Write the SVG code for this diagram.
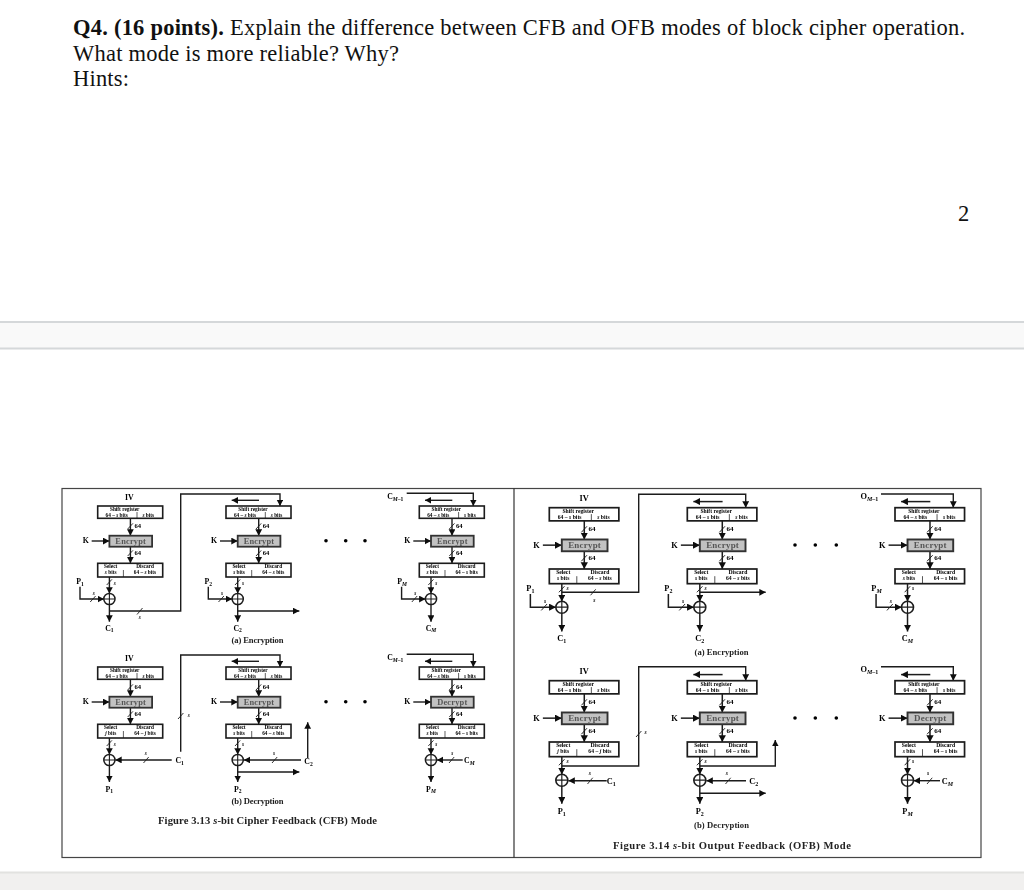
<svg xmlns="http://www.w3.org/2000/svg" width="1024" height="890" viewBox="0 0 1024 890">
<style>
.q{font-family:"Liberation Serif","Times New Roman",serif;font-size:22.5px;fill:#111}
text{font-family:"Liberation Serif","Times New Roman",serif}
.f text{font-weight:bold;fill:#000;text-anchor:middle}
.t4{font-size:5.3px}
.t6{font-size:6.6px}
.t8{font-size:8.4px;letter-spacing:.2px;fill:#555!important}
.t7{font-size:7.8px}
.cap{font-size:8.6px;fill:#222!important}
.fig{font-size:10.6px;fill:#222!important}
.i{font-style:italic}
.sub{font-size:5.6px}
.ln{fill:none;stroke:#1c1c1c;stroke-width:1.4}
.ar{marker-end:url(#tip)}
.sl{fill:none;stroke:#1c1c1c;stroke-width:.9}
.bx{fill:#fff;stroke:#1c1c1c;stroke-width:1.6}
.dv{fill:none;stroke:#1c1c1c;stroke-width:.7}
.en{fill:#c2c2c2;stroke:#333;stroke-width:1.8}
.dot{fill:#000}
</style>
<defs>
<filter id="soft" filterUnits="userSpaceOnUse" x="50" y="480" width="945" height="385"><feGaussianBlur stdDeviation="0.38"/></filter>
<marker id="tip" markerUnits="userSpaceOnUse" markerWidth="8" markerHeight="8" refX="6.4" refY="3.4" orient="auto"><path d="M0 0L6.4 3.4L0 6.8Z" fill="#111"/></marker>
<g id="xor"><circle r="5.6" fill="#fff" stroke="#1c1c1c" stroke-width="1.5"/><path d="M-5.6 0H5.6M0-5.6V5.6" stroke="#1c1c1c" stroke-width="1.1" fill="none"/></g>
<!-- cipher column: stems from register through block to combiner -->
<g id="stem">
<path class="ln ar" d="M32.7 12.3V29.7"/><path class="sl" d="M30 23l5.2-5.6"/>
<path class="ln ar" d="M32.7 40.7V57.3"/><path class="sl" d="M30 50l5.2-5.6"/>
<path class="ln ar" d="M-6 35H11.7"/>
<path class="ln ar" d="M11.7 71V87.6"/><path class="sl" d="M9 79l5.2-5.6"/>
</g>
<g id="plain-in">
<path class="ln ar" d="M-17.7 80.7V93H6.2"/><path class="sl" d="M-7.5 96l5.4-6"/>
<path class="ln ar" d="M11.7 98.6V115.7"/>
</g>
<path id="out" class="ln ar" d="M11.7 98.6V115"/>
<path id="left" class="ln ar" d="M33-5.7H5.7"/>
</defs>

<rect width="1024" height="890" fill="#fff"/>

<g id="page-band">
<rect y="322" width="1024" height="27" fill="#f9f9f9"/>
<rect y="321" width="1024" height="2" fill="#d5d8da"/>
<rect y="347.5" width="1024" height="2" fill="#d5d8da"/>
<rect y="872" width="1024" height="18" fill="#f1f0ef"/>
<rect y="871.5" width="1024" height="2" fill="#e2e2e0"/>
</g>

<g id="question">
<text class="q" x="73" y="35" textLength="892" lengthAdjust="spacing"><tspan font-weight="bold">Q4. (16 points).</tspan> Explain the difference between CFB and OFB modes of block cipher operation.</text>
<text class="q" x="73" y="61" textLength="326" lengthAdjust="spacing">What mode is more reliable? Why?</text>
<text class="q" x="73" y="86" textLength="56" lengthAdjust="spacing">Hints:</text>
<text class="q" x="958" y="221">2</text>
</g>

<g class="f" filter="url(#soft)">
<g id="frame">
<rect x="62" y="488.5" width="919" height="369" fill="none" stroke="#444" stroke-width="1.2"/>
<path d="M514 488.5V857.5" stroke="#333" stroke-width="1.2"/>
</g>

<g id="connectors">
<!-- CFB encryption -->
<use href="#stem" x="97.7" y="506"/><use href="#plain-in" x="97.7" y="506"/>
<use href="#stem" x="226" y="506"/><use href="#plain-in" x="226" y="506"/><use href="#left" x="226" y="506"/>
<use href="#stem" x="419.3" y="506"/><use href="#plain-in" x="419.3" y="506"/><use href="#left" x="419.3" y="506"/>
<path class="ln ar" d="M109.3 611H180.7V494H280V506"/><path class="sl" d="M137 614.500l5.500-6.500"/>
<path class="ln ar" d="M238 611H299.3"/>
<path class="ln ar" d="M406.7 493.3H473.3V506"/>
<!-- CFB decryption -->
<use href="#stem" x="97.7" y="667"/><use href="#out" x="97.7" y="667"/>
<use href="#stem" x="226" y="667"/><use href="#out" x="226" y="667"/><use href="#left" x="226" y="667"/>
<use href="#stem" x="419.3" y="667"/><use href="#out" x="419.3" y="667"/><use href="#left" x="419.3" y="667"/>
<path class="ln ar" d="M171.7 760H115.300"/><path class="sl" d="M143.500 763l5.200-6"/>
<path class="ln ar" d="M180.7 751.7V655H280V667"/><path class="sl" d="M178 719l5.400-6"/>
<path class="ln ar" d="M301 760H243.800"/><path class="sl" d="M272 763l5.200-6"/>
<path class="ln ar" d="M238 772H299.3"/>
<path class="ln ar" d="M307.7 758V722.3"/>
<path class="ln ar" d="M462.7 760H436.8"/><path class="sl" d="M449 763l5.200-6"/>
<path class="ln ar" d="M406.7 654.3H473.3V667"/>
<!-- OFB encryption -->
<g transform="translate(549.3 507.7) scale(1.07)"><use href="#stem"/><use href="#plain-in"/></g>
<g transform="translate(687.3 507.7) scale(1.07)"><use href="#stem"/><use href="#plain-in"/><use href="#left"/></g>
<g transform="translate(895 507.7) scale(1.07)"><use href="#stem"/><use href="#plain-in"/><use href="#left"/></g>
<path class="ln ar" d="M562 592.3H638.7V494.3H745.7V507.7"/><path class="sl" d="M590.500 595.3l5.200-6"/>
<path class="ln ar" d="M700 592.3H765.7"/>
<path class="ln ar" d="M881 494H953.3V507.7"/>
<!-- OFB decryption -->
<g transform="translate(549.3 680.7) scale(1.07)"><use href="#stem"/><use href="#out"/></g>
<g transform="translate(687.3 680.7) scale(1.07)"><use href="#stem"/><use href="#out"/><use href="#left"/></g>
<g transform="translate(895 680.7) scale(1.07)"><use href="#stem"/><use href="#out"/><use href="#left"/></g>
<path class="ln ar" d="M606.7 780.7H568.4"/><path class="sl" d="M587.500 784l5.200-6.200"/>
<path class="ln ar" d="M562 766H638.7V666.7H745.7V680.7"/><path class="sl" d="M636 737l5.400-6"/>
<path class="ln ar" d="M746 780.7H706.4"/><path class="sl" d="M725.500 784l5.200-6.200"/>
<path class="ln ar" d="M700 766H775.3V740"/>
<path class="ln ar" d="M700 793.3H765.7"/>
<path class="ln ar" d="M940 780.7H913.7"/><path class="sl" d="M927 784l5.200-6.200"/>
<path class="ln ar" d="M881 666.7H953.3V680.7"/>
</g>

<!-- CFB encryption columns -->
<g transform="translate(97.7 506)">
<g id="cfb-e1-register"><rect class="bx" width="65" height="12.3"/><path class="dv" d="M39.3 6V12.3"/><text class="t4" x="27" y="5">Shift register</text><text class="t4" x="19" y="10.500">64 – <tspan class="i">s</tspan> bits</text><text class="t4" x="50.6" y="10.500"><tspan class="i">s</tspan> bits</text></g>
<g id="cfb-e1-block"><rect class="en" x="11.7" y="29.7" width="42.7" height="11"/><text class="t8" x="33" y="38">Encrypt</text></g>
<g id="cfb-e1-select"><rect class="bx" y="57.3" width="65" height="13.7"/><path class="dv" d="M25.7 64V71"/><text class="t4" x="13" y="62.3">Select</text><text class="t4" x="13" y="68"><tspan class="i">s</tspan> bits</text><text class="t4" x="47.3" y="62.3">Discard</text><text class="t4" x="47.3" y="68">64 – <tspan class="i">s</tspan> bits</text></g>
<g id="cfb-e1-xor"><use href="#xor" x="11.7" y="93"/></g>
<g id="cfb-e1-labels"><text class="t7" x="31.6" y="-6">IV</text><text class="t7" x="-12" y="37.3">K</text><text class="t6" x="40" y="21.7">64</text><text class="t6" x="40" y="48.7">64</text><text class="t4 i" x="17" y="78.500">s</text><text class="t4 i" x="-4" y="89">s</text><text class="t7" x="-17.7" y="78.3">P<tspan class="sub" dy="1.500">1</tspan></text><text class="t7" x="11.7" y="124.7">C<tspan class="sub" dy="1.500">1</tspan></text><text class="t4 i" x="42" y="112.500">s</text></g>
</g>
<g transform="translate(226 506)">
<g id="cfb-e2-register"><rect class="bx" width="65" height="12.3"/><path class="dv" d="M39.3 6V12.3"/><text class="t4" x="27" y="5">Shift register</text><text class="t4" x="19" y="10.500">64 – <tspan class="i">s</tspan> bits</text><text class="t4" x="50.6" y="10.500"><tspan class="i">s</tspan> bits</text></g>
<g id="cfb-e2-block"><rect class="en" x="11.7" y="29.7" width="42.7" height="11"/><text class="t8" x="33" y="38">Encrypt</text></g>
<g id="cfb-e2-select"><rect class="bx" y="57.3" width="65" height="13.7"/><path class="dv" d="M25.7 64V71"/><text class="t4" x="13" y="62.3">Select</text><text class="t4" x="13" y="68"><tspan class="i">s</tspan> bits</text><text class="t4" x="47.3" y="62.3">Discard</text><text class="t4" x="47.3" y="68">64 – <tspan class="i">s</tspan> bits</text></g>
<g id="cfb-e2-xor"><use href="#xor" x="11.7" y="93"/></g>
<g id="cfb-e2-labels"><text class="t7" x="-12" y="37.3">K</text><text class="t6" x="40" y="21.7">64</text><text class="t6" x="40" y="48.7">64</text><text class="t4 i" x="17" y="78.500">s</text><text class="t4 i" x="-4" y="89">s</text><text class="t7" x="-17.7" y="78.3">P<tspan class="sub" dy="1.500">2</tspan></text><text class="t7" x="11.7" y="124.7">C<tspan class="sub" dy="1.500">2</tspan></text></g>
</g>
<g transform="translate(419.3 506)">
<g id="cfb-eM-register"><rect class="bx" width="65" height="12.3"/><path class="dv" d="M39.3 6V12.3"/><text class="t4" x="27" y="5">Shift register</text><text class="t4" x="19" y="10.500">64 – <tspan class="i">s</tspan> bits</text><text class="t4" x="50.6" y="10.500"><tspan class="i">s</tspan> bits</text></g>
<g id="cfb-eM-block"><rect class="en" x="11.7" y="29.7" width="42.7" height="11"/><text class="t8" x="33" y="38">Encrypt</text></g>
<g id="cfb-eM-select"><rect class="bx" y="57.3" width="65" height="13.7"/><path class="dv" d="M25.7 64V71"/><text class="t4" x="13" y="62.3">Select</text><text class="t4" x="13" y="68"><tspan class="i">s</tspan> bits</text><text class="t4" x="47.3" y="62.3">Discard</text><text class="t4" x="47.3" y="68">64 – <tspan class="i">s</tspan> bits</text></g>
<g id="cfb-eM-xor"><use href="#xor" x="11.7" y="93"/></g>
<g id="cfb-eM-labels"><text class="t7" x="-24" y="-7">C<tspan class="sub i" dy="1.500">M</tspan><tspan class="sub">–1</tspan></text><text class="t7" x="-12" y="37.3">K</text><text class="t6" x="40" y="21.7">64</text><text class="t6" x="40" y="48.7">64</text><text class="t4 i" x="17" y="78.500">s</text><text class="t4 i" x="-4" y="89">s</text><text class="t7" x="-17.3" y="78.3">P<tspan class="sub i" dy="1.500">M</tspan></text><text class="t7" x="11.7" y="124.7">C<tspan class="sub i" dy="1.500">M</tspan></text></g>
</g>

<!-- CFB decryption columns -->
<g transform="translate(97.7 667)">
<g id="cfb-d1-register"><rect class="bx" width="65" height="12.3"/><path class="dv" d="M39.3 6V12.3"/><text class="t4" x="27" y="5">Shift register</text><text class="t4" x="19" y="10.500">64 – <tspan class="i">s</tspan> bits</text><text class="t4" x="50.6" y="10.500"><tspan class="i">s</tspan> bits</text></g>
<g id="cfb-d1-block"><rect class="en" x="11.7" y="29.7" width="42.7" height="11"/><text class="t8" x="33" y="38">Encrypt</text></g>
<g id="cfb-d1-select"><rect class="bx" y="57.3" width="65" height="13.7"/><path class="dv" d="M25.7 64V71"/><text class="t4" x="13" y="62.3">Select</text><text class="t4" x="13" y="68"><tspan class="i">j</tspan> bits</text><text class="t4" x="47.3" y="62.3">Discard</text><text class="t4" x="47.3" y="68">64 – <tspan class="i">j</tspan> bits</text></g>
<g id="cfb-d1-xor"><use href="#xor" x="11.7" y="93"/></g>
<g id="cfb-d1-labels"><text class="t7" x="31.6" y="-6">IV</text><text class="t7" x="-12" y="37.3">K</text><text class="t6" x="40" y="21.7">64</text><text class="t6" x="40" y="48.7">64</text><text class="t4 i" x="17" y="78.500">s</text><text class="t4 i" x="48" y="88">s</text><text class="t4 i" x="91" y="50">s</text><text class="t7" x="11.7" y="124.7">P<tspan class="sub" dy="1.500">1</tspan></text><text class="t7" x="82" y="96">C<tspan class="sub" dy="1.500">1</tspan></text></g>
</g>
<g transform="translate(226 667)">
<g id="cfb-d2-register"><rect class="bx" width="65" height="12.3"/><path class="dv" d="M39.3 6V12.3"/><text class="t4" x="27" y="5">Shift register</text><text class="t4" x="19" y="10.500">64 – <tspan class="i">s</tspan> bits</text><text class="t4" x="50.6" y="10.500"><tspan class="i">s</tspan> bits</text></g>
<g id="cfb-d2-block"><rect class="en" x="11.7" y="29.7" width="42.7" height="11"/><text class="t8" x="33" y="38">Encrypt</text></g>
<g id="cfb-d2-select"><rect class="bx" y="57.3" width="65" height="13.7"/><path class="dv" d="M25.7 64V71"/><text class="t4" x="13" y="62.3">Select</text><text class="t4" x="13" y="68"><tspan class="i">s</tspan> bits</text><text class="t4" x="47.3" y="62.3">Discard</text><text class="t4" x="47.3" y="68">64 – <tspan class="i">s</tspan> bits</text></g>
<g id="cfb-d2-xor"><use href="#xor" x="11.7" y="93"/></g>
<g id="cfb-d2-labels"><text class="t7" x="-12" y="37.3">K</text><text class="t6" x="40" y="21.7">64</text><text class="t6" x="40" y="48.7">64</text><text class="t4 i" x="17" y="78.500">s</text><text class="t4 i" x="48" y="88">s</text><text class="t7" x="11.7" y="124.7">P<tspan class="sub" dy="1.500">2</tspan></text><text class="t7" x="82.500" y="97">C<tspan class="sub" dy="1.500">2</tspan></text></g>
</g>
<g transform="translate(419.3 667)">
<g id="cfb-dM-register"><rect class="bx" width="65" height="12.3"/><path class="dv" d="M39.3 6V12.3"/><text class="t4" x="27" y="5">Shift register</text><text class="t4" x="19" y="10.500">64 – <tspan class="i">s</tspan> bits</text><text class="t4" x="50.6" y="10.500"><tspan class="i">s</tspan> bits</text></g>
<g id="cfb-dM-block"><rect class="en" x="11.7" y="29.7" width="42.7" height="11"/><text class="t8" x="33" y="38">Decrypt</text></g>
<g id="cfb-dM-select"><rect class="bx" y="57.3" width="65" height="13.7"/><path class="dv" d="M25.7 64V71"/><text class="t4" x="13" y="62.3">Select</text><text class="t4" x="13" y="68"><tspan class="i">s</tspan> bits</text><text class="t4" x="47.3" y="62.3">Discard</text><text class="t4" x="47.3" y="68">64 – <tspan class="i">s</tspan> bits</text></g>
<g id="cfb-dM-xor"><use href="#xor" x="11.7" y="93"/></g>
<g id="cfb-dM-labels"><text class="t7" x="-24" y="-7">C<tspan class="sub i" dy="1.500">M</tspan><tspan class="sub">–1</tspan></text><text class="t7" x="-12" y="37.3">K</text><text class="t6" x="40" y="21.7">64</text><text class="t6" x="40" y="48.7">64</text><text class="t4 i" x="17" y="78.500">s</text><text class="t4 i" x="33" y="88">s</text><text class="t7" x="11.7" y="124.7">P<tspan class="sub i" dy="1.500">M</tspan></text><text class="t7" x="50" y="96">C<tspan class="sub i" dy="1.500">M</tspan></text></g>
</g>

<g id="cfb-captions">
<circle class="dot" cx="326" cy="540.7" r="1.800"/><circle class="dot" cx="345.7" cy="540.7" r="1.800"/><circle class="dot" cx="365" cy="540.7" r="1.800"/>
<circle class="dot" cx="326" cy="701.7" r="1.800"/><circle class="dot" cx="345.7" cy="701.7" r="1.800"/><circle class="dot" cx="365" cy="701.7" r="1.800"/>
<text class="cap" x="257.500" y="642.500" textLength="52">(a) Encryption</text>
<text class="cap" x="257.500" y="804" textLength="52">(b) Decryption</text>
<text class="fig" x="267.500" y="824" textLength="219">Figure 3.13  <tspan class="i">s</tspan>-bit Cipher Feedback (CFB) Mode</text>
</g>

<!-- OFB encryption columns -->
<g transform="translate(549.3 507.7) scale(1.07)">
<g id="ofb-e1-register"><rect class="bx" width="65" height="12.3"/><path class="dv" d="M39.3 6V12.3"/><text class="t4" x="27" y="5">Shift register</text><text class="t4" x="19" y="10.500">64 – <tspan class="i">s</tspan> bits</text><text class="t4" x="50.6" y="10.500"><tspan class="i">s</tspan> bits</text></g>
<g id="ofb-e1-block"><rect class="en" x="11.7" y="29.7" width="42.7" height="11"/><text class="t8" x="33" y="38">Encrypt</text></g>
<g id="ofb-e1-select"><rect class="bx" y="57.3" width="65" height="13.7"/><path class="dv" d="M25.7 64V71"/><text class="t4" x="13" y="62.3">Select</text><text class="t4" x="13" y="68"><tspan class="i">s</tspan> bits</text><text class="t4" x="47.3" y="62.3">Discard</text><text class="t4" x="47.3" y="68">64 – <tspan class="i">s</tspan> bits</text></g>
<g id="ofb-e1-xor"><use href="#xor" x="11.7" y="93"/></g>
<g id="ofb-e1-labels"><text class="t7" x="32.500" y="-6">IV</text><text class="t7" x="-12" y="37.3">K</text><text class="t6" x="40" y="21.7">64</text><text class="t6" x="40" y="48.7">64</text><text class="t4 i" x="17" y="77">s</text><text class="t4 i" x="-4" y="89">s</text><text class="t4 i" x="42" y="88">s</text><text class="t7" x="-17.7" y="78.3">P<tspan class="sub" dy="1.500">1</tspan></text><text class="t7" x="11.7" y="124.7">C<tspan class="sub" dy="1.500">1</tspan></text></g>
</g>
<g transform="translate(687.3 507.7) scale(1.07)">
<g id="ofb-e2-register"><rect class="bx" width="65" height="12.3"/><path class="dv" d="M39.3 6V12.3"/><text class="t4" x="27" y="5">Shift register</text><text class="t4" x="19" y="10.500">64 – <tspan class="i">s</tspan> bits</text><text class="t4" x="50.6" y="10.500"><tspan class="i">s</tspan> bits</text></g>
<g id="ofb-e2-block"><rect class="en" x="11.7" y="29.7" width="42.7" height="11"/><text class="t8" x="33" y="38">Encrypt</text></g>
<g id="ofb-e2-select"><rect class="bx" y="57.3" width="65" height="13.7"/><path class="dv" d="M25.7 64V71"/><text class="t4" x="13" y="62.3">Select</text><text class="t4" x="13" y="68"><tspan class="i">s</tspan> bits</text><text class="t4" x="47.3" y="62.3">Discard</text><text class="t4" x="47.3" y="68">64 – <tspan class="i">s</tspan> bits</text></g>
<g id="ofb-e2-xor"><use href="#xor" x="11.7" y="93"/></g>
<g id="ofb-e2-labels"><text class="t7" x="-12" y="37.3">K</text><text class="t6" x="40" y="21.7">64</text><text class="t6" x="40" y="48.7">64</text><text class="t4 i" x="17" y="77">s</text><text class="t4 i" x="-4" y="89">s</text><text class="t7" x="-17.7" y="78.3">P<tspan class="sub" dy="1.500">2</tspan></text><text class="t7" x="11.7" y="124.7">C<tspan class="sub" dy="1.500">2</tspan></text></g>
</g>
<g transform="translate(895 507.7) scale(1.07)">
<g id="ofb-eM-register"><rect class="bx" width="65" height="12.3"/><path class="dv" d="M39.3 6V12.3"/><text class="t4" x="27" y="5">Shift register</text><text class="t4" x="19" y="10.500">64 – <tspan class="i">s</tspan> bits</text><text class="t4" x="50.6" y="10.500"><tspan class="i">s</tspan> bits</text></g>
<g id="ofb-eM-block"><rect class="en" x="11.7" y="29.7" width="42.7" height="11"/><text class="t8" x="33" y="38">Encrypt</text></g>
<g id="ofb-eM-select"><rect class="bx" y="57.3" width="65" height="13.7"/><path class="dv" d="M25.7 64V71"/><text class="t4" x="13" y="62.3">Select</text><text class="t4" x="13" y="68"><tspan class="i">s</tspan> bits</text><text class="t4" x="47.3" y="62.3">Discard</text><text class="t4" x="47.3" y="68">64 – <tspan class="i">s</tspan> bits</text></g>
<g id="ofb-eM-xor"><use href="#xor" x="11.7" y="93"/></g>
<g id="ofb-eM-labels"><text class="t7" x="-24" y="-8">O<tspan class="sub i" dy="1.500">M</tspan><tspan class="sub">–1</tspan></text><text class="t7" x="-12" y="37.3">K</text><text class="t6" x="40" y="21.7">64</text><text class="t6" x="40" y="48.7">64</text><text class="t4 i" x="17" y="77">s</text><text class="t4 i" x="-4" y="89">s</text><text class="t7" x="-17.3" y="78.3">P<tspan class="sub i" dy="1.500">M</tspan></text><text class="t7" x="11.7" y="124.7">C<tspan class="sub i" dy="1.500">M</tspan></text></g>
</g>

<!-- OFB decryption columns -->
<g transform="translate(549.3 680.7) scale(1.07)">
<g id="ofb-d1-register"><rect class="bx" width="65" height="12.3"/><path class="dv" d="M39.3 6V12.3"/><text class="t4" x="27" y="5">Shift register</text><text class="t4" x="19" y="10.500">64 – <tspan class="i">s</tspan> bits</text><text class="t4" x="50.6" y="10.500"><tspan class="i">s</tspan> bits</text></g>
<g id="ofb-d1-block"><rect class="en" x="11.7" y="29.7" width="42.7" height="11"/><text class="t8" x="33" y="38">Encrypt</text></g>
<g id="ofb-d1-select"><rect class="bx" y="57.3" width="65" height="13.7"/><path class="dv" d="M25.7 64V71"/><text class="t4" x="13" y="62.3">Select</text><text class="t4" x="13" y="68"><tspan class="i">j</tspan> bits</text><text class="t4" x="47.3" y="62.3">Discard</text><text class="t4" x="47.3" y="68">64 – <tspan class="i">j</tspan> bits</text></g>
<g id="ofb-d1-xor"><use href="#xor" x="11.7" y="93"/></g>
<g id="ofb-d1-labels"><text class="t7" x="32.500" y="-6">IV</text><text class="t7" x="-12" y="37.3">K</text><text class="t6" x="40" y="21.7">64</text><text class="t6" x="40" y="48.7">64</text><text class="t4 i" x="17" y="77">s</text><text class="t4 i" x="38" y="88">s</text><text class="t4 i" x="90" y="50">s</text><text class="t7" x="11.7" y="124.7">P<tspan class="sub" dy="1.500">1</tspan></text><text class="t7" x="58" y="97">C<tspan class="sub" dy="1.500">1</tspan></text></g>
</g>
<g transform="translate(687.3 680.7) scale(1.07)">
<g id="ofb-d2-register"><rect class="bx" width="65" height="12.3"/><path class="dv" d="M39.3 6V12.3"/><text class="t4" x="27" y="5">Shift register</text><text class="t4" x="19" y="10.500">64 – <tspan class="i">s</tspan> bits</text><text class="t4" x="50.6" y="10.500"><tspan class="i">s</tspan> bits</text></g>
<g id="ofb-d2-block"><rect class="en" x="11.7" y="29.7" width="42.7" height="11"/><text class="t8" x="33" y="38">Encrypt</text></g>
<g id="ofb-d2-select"><rect class="bx" y="57.3" width="65" height="13.7"/><path class="dv" d="M25.7 64V71"/><text class="t4" x="13" y="62.3">Select</text><text class="t4" x="13" y="68"><tspan class="i">s</tspan> bits</text><text class="t4" x="47.3" y="62.3">Discard</text><text class="t4" x="47.3" y="68">64 – <tspan class="i">s</tspan> bits</text></g>
<g id="ofb-d2-xor"><use href="#xor" x="11.7" y="93"/></g>
<g id="ofb-d2-labels"><text class="t7" x="-12" y="37.3">K</text><text class="t6" x="40" y="21.7">64</text><text class="t6" x="40" y="48.7">64</text><text class="t4 i" x="17" y="77">s</text><text class="t4 i" x="37" y="88">s</text><text class="t7" x="11.7" y="124.7">P<tspan class="sub" dy="1.500">2</tspan></text><text class="t7" x="62" y="97">C<tspan class="sub" dy="1.500">2</tspan></text></g>
</g>
<g transform="translate(895 680.7) scale(1.07)">
<g id="ofb-dM-register"><rect class="bx" width="65" height="12.3"/><path class="dv" d="M39.3 6V12.3"/><text class="t4" x="27" y="5">Shift register</text><text class="t4" x="19" y="10.500">64 – <tspan class="i">s</tspan> bits</text><text class="t4" x="50.6" y="10.500"><tspan class="i">s</tspan> bits</text></g>
<g id="ofb-dM-block"><rect class="en" x="11.7" y="29.7" width="42.7" height="11"/><text class="t8" x="33" y="38">Decrypt</text></g>
<g id="ofb-dM-select"><rect class="bx" y="57.3" width="65" height="13.7"/><path class="dv" d="M25.7 64V71"/><text class="t4" x="13" y="62.3">Select</text><text class="t4" x="13" y="68"><tspan class="i">s</tspan> bits</text><text class="t4" x="47.3" y="62.3">Discard</text><text class="t4" x="47.3" y="68">64 – <tspan class="i">s</tspan> bits</text></g>
<g id="ofb-dM-xor"><use href="#xor" x="11.7" y="93"/></g>
<g id="ofb-dM-labels"><text class="t7" x="-24" y="-8">O<tspan class="sub i" dy="1.500">M</tspan><tspan class="sub">–1</tspan></text><text class="t7" x="-12" y="37.3">K</text><text class="t6" x="40" y="21.7">64</text><text class="t6" x="40" y="48.7">64</text><text class="t4 i" x="17" y="77">s</text><text class="t4 i" x="31" y="88">s</text><text class="t7" x="11.7" y="125">P<tspan class="sub i" dy="1.500">M</tspan></text><text class="t7" x="49" y="97">C<tspan class="sub i" dy="1.500">M</tspan></text></g>
</g>

<g id="ofb-captions">
<circle class="dot" cx="795" cy="545" r="1.800"/><circle class="dot" cx="815.3" cy="545" r="1.800"/><circle class="dot" cx="836.3" cy="545" r="1.800"/>
<circle class="dot" cx="795" cy="718" r="1.800"/><circle class="dot" cx="815.3" cy="718" r="1.800"/><circle class="dot" cx="836.3" cy="718" r="1.800"/>
<text class="cap" x="721.500" y="654.500" textLength="54">(a) Encryption</text>
<text class="cap" x="721.500" y="828" textLength="55">(b) Decryption</text>
<text class="fig" x="732" y="849" textLength="238">Figure 3.14  <tspan class="i">s</tspan>-bit Output Feedback (OFB) Mode</text>
</g>
</g>
</svg>
